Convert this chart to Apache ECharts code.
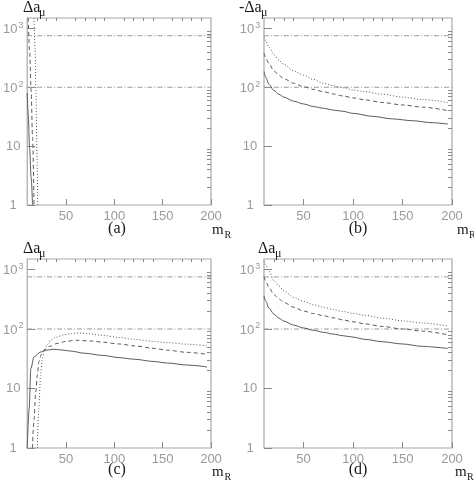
<!DOCTYPE html>
<html><head><meta charset="utf-8">
<script src="https://cdn.jsdelivr.net/npm/echarts@6/dist/echarts.min.js"></script>
<style>html,body{margin:0;padding:0;background:#fff}#c{width:474px;height:484px}</style>
</head><body><div id="c"></div>
<script>
// ---- axis ticks ----
const xRange = [10, 200];
const yRange = [1, 1500];
const xMajorTicks = [50, 100, 150, 200];
const xMinorTicks = [20, 30, 40, 60, 70, 80, 90, 110, 120, 130, 140, 160, 170, 180, 190];
const yMajorTicks = [1, 10, 100, 1000];
const yMinorTicks = [2, 3, 4, 5, 6, 7, 8, 9, 20, 30, 40, 50, 60, 70, 80, 90, 200, 300, 400, 500, 600, 700, 800, 900];
// ---- horizontal bounds (dash-dot) ----
const boundLow = 100;
const boundHigh = 750;

// ---- panel (a) ----
const aSolid  = [[10, 80], [11, 35], [12.5, 9], [14, 3], [15.5, 1]];
const aDashed = [[11, 1500], [12.5, 400], [14, 90], [15.5, 14], [17, 1]];
const aDotted = [[17, 1500], [18, 500], [19, 90], [20, 8], [20.8, 1]];

// ---- panel (b) ----
const bSolid  = [[10, 185], [12, 145], [15, 112], [20, 88], [25, 76], [30, 68], [40, 58], [50, 52], [60, 47], [70, 44], [80, 41], [90, 39], [100, 36], [120, 32], [140, 29], [160, 27], [180, 25], [196, 23.7]];
const bDashed = [[10, 380], [12, 310], [15, 250], [20, 190], [25, 160], [30, 140], [40, 117], [50, 102], [60, 92], [70, 84], [80, 77], [90, 71], [100, 66], [112, 61], [130, 55], [150, 50], [170, 46], [196, 40]];
const bDotted = [[10, 720], [12, 600], [15, 480], [20, 360], [25, 290], [30, 245], [40, 190], [50, 160], [60, 136], [70, 117], [80, 106], [90, 98], [100, 90], [112, 84], [130, 76], [150, 68], [170, 62], [196, 55]];

// ---- panel (c) ----
const cSolid  = [[10, 1], [12, 4.6], [13.7, 21.5], [17, 34], [23.8, 41], [30, 44], [37, 45.6], [45, 44.5], [54, 42.7], [70, 39], [88, 36], [105, 33], [121, 31], [140, 28.5], [155, 26.8], [175, 24.8], [196, 23]];
const cDashed = [[15.4, 1], [17, 3], [18.8, 8.7], [20.5, 17], [22, 28], [24.5, 37], [27.3, 44], [33, 51], [40.8, 57], [50, 62], [61, 64.6], [75, 63], [88, 60], [105, 56], [121, 52], [140, 47.5], [155, 44], [175, 40.5], [196, 37.6]];
const cDotted = [[20.4, 1], [22, 4.6], [23.8, 16.7], [25.5, 30], [27.3, 41], [30.5, 54], [34, 64.6], [40, 73], [48, 80], [56, 84], [64, 86], [75, 83], [88, 78], [105, 72], [121, 67], [140, 62], [155, 59], [175, 55.5], [196, 52]];

// ---- panel (d) ----
const dSolid  = [[10, 360], [12, 290], [15, 225], [20, 178], [25, 152], [30, 136], [40, 116], [50, 104], [60, 95], [70, 88], [80, 82], [90, 77], [100, 73], [112, 67], [130, 61], [150, 56], [170, 51], [196, 47]];
const dDashed = [[10, 760], [12, 620], [15, 500], [20, 380], [25, 320], [30, 280], [40, 232], [50, 200], [60, 182], [70, 167], [80, 154], [90, 142], [100, 132], [112, 122], [130, 110], [150, 100], [170, 92], [196, 80]];
const dDotted = [[10, 1400], [12, 1180], [15, 950], [20, 650], [25, 530], [30, 440], [40, 340], [50, 290], [60, 255], [70, 232], [80, 212], [90, 196], [100, 183], [112, 170], [130, 152], [150, 137], [170, 126], [196, 112]];

const panels = [
  { grid: { left: 23, top: 18, width: 188, height: 187 }, solid: aSolid, dashed: aDashed, dotted: aDotted },
  { grid: { left: 264, top: 18, width: 188, height: 187 }, solid: bSolid, dashed: bDashed, dotted: bDotted },
  { grid: { left: 23, top: 259, width: 188, height: 189 }, solid: cSolid, dashed: cDashed, dotted: cDotted },
  { grid: { left: 264, top: 259, width: 188, height: 189 }, solid: dSolid, dashed: dDashed, dotted: dDotted }
];

const tickColor = '#8a8a8a';
const labelColor = '#9a9a9a';
const curveColor = '#5a5a5a';
const boundColor = '#9a9a9a';
const serif = '"Liberation Serif", "DejaVu Serif", serif';
const sans = '"Liberation Sans", Arial, sans-serif';

const grids = [], xAxes = [], yAxes = [], series = [];
panels.forEach((p, i) => {
  grids.push(Object.assign({ show: true, borderColor: '#a8a8a8', borderWidth: 1.2, backgroundColor: 'transparent' }, p.grid));
  xAxes.push({
    type: 'value', gridIndex: i, min: xRange[0], max: xRange[1], interval: 10,
    axisLine: { show: false }, splitLine: { show: false },
    axisTick: { show: true, inside: true, length: 6, customValues: xMajorTicks, lineStyle: { color: tickColor, width: 1 } },
    axisLabel: { show: true, customValues: xMajorTicks, margin: 5, color: labelColor, fontSize: 13, fontFamily: sans }
  });
  xAxes.push({
    type: 'value', gridIndex: i, min: xRange[0], max: xRange[1], interval: 10,
    axisLine: { show: false }, splitLine: { show: false },
    axisTick: { show: true, inside: true, length: 3, customValues: xMinorTicks, lineStyle: { color: tickColor, width: 1 } },
    axisLabel: { show: false }
  });
  yAxes.push({
    type: 'log', logBase: 10, gridIndex: i, min: yRange[0], max: yRange[1],
    axisLine: { show: false }, splitLine: { show: false },
    axisTick: { show: true, inside: true, length: 8, customValues: yMajorTicks, lineStyle: { color: tickColor, width: 1 } },
    axisLabel: {
      show: true, customValues: yMajorTicks, margin: 14, align: 'center', color: labelColor, fontSize: 13, fontFamily: sans,
      formatter: v => {
        const e = Math.round(Math.log10(v));
        if (e <= 1) return String(Math.round(v));
        return '{b|10}{s|' + e + '}';
      },
      rich: {
        b: { fontSize: 13, color: labelColor, fontFamily: sans, verticalAlign: 'bottom' },
        s: { fontSize: 9, color: labelColor, fontFamily: sans, verticalAlign: 'bottom', padding: [0, 0, 6, 1] }
      }
    }
  });
  yAxes.push({
    type: 'log', logBase: 10, gridIndex: i, min: yRange[0], max: yRange[1],
    axisLine: { show: false }, splitLine: { show: false },
    axisTick: { show: true, inside: true, length: 4, customValues: yMinorTicks, lineStyle: { color: tickColor, width: 1 } },
    axisLabel: { show: false }
  });
  const xi = i * 2, yi = i * 2;
  const mk = (data, type, color) => ({
    type: 'line', xAxisIndex: xi, yAxisIndex: yi, data: data, symbol: 'none', smooth: 0.3, smoothMonotone: 'x',
    clip: true, silent: true,
    lineStyle: { color: color, width: 1, type: type }
  });
  series.push(mk([[xRange[0], boundHigh], [xRange[1], boundHigh]], [5, 2, 1, 2], boundColor));
  series.push(mk([[xRange[0], boundLow], [xRange[1], boundLow]], [5, 2, 1, 2], boundColor));
  series.push(mk(p.solid, 'solid', curveColor));
  series.push(mk(p.dashed, [4, 3], curveColor));
  series.push(mk(p.dotted, [1, 2], curveColor));
});

// text placed by its vertical middle
const txt = (x, y, text, size, align) => ({
  type: 'text', x: x, y: y, silent: true,
  style: { text: text, fontSize: size, fontFamily: serif, fill: '#1a1a1a', align: align || 'left', verticalAlign: 'middle' }
});
const graphics = [
  txt(23, 7.5, 'Δa', 16), txt(39, 12.5, 'μ', 12),
  txt(239, 7.5, '-Δa', 16), txt(261, 12.5, 'μ', 12),
  txt(23, 249, 'Δa', 16), txt(39, 254, 'μ', 12),
  txt(258, 249, 'Δa', 16), txt(275, 254, 'μ', 12),
  txt(212, 230, 'm', 15), txt(224.5, 235, 'R', 10),
  txt(457, 230, 'm', 15), txt(469, 235, 'R', 10),
  txt(212, 472, 'm', 15), txt(224.5, 477, 'R', 10),
  txt(455, 472, 'm', 15), txt(467, 477, 'R', 10),
  txt(117, 229, '(a)', 16, 'center'),
  txt(358, 229, '(b)', 16, 'center'),
  txt(117, 470, '(c)', 16, 'center'),
  txt(358, 470, '(d)', 16, 'center')
];

const chart = echarts.init(document.getElementById('c'));
chart.setOption({
  animation: false,
  backgroundColor: '#fff',
  grid: grids, xAxis: xAxes, yAxis: yAxes, series: series,
  graphic: graphics
});
</script></body></html>
